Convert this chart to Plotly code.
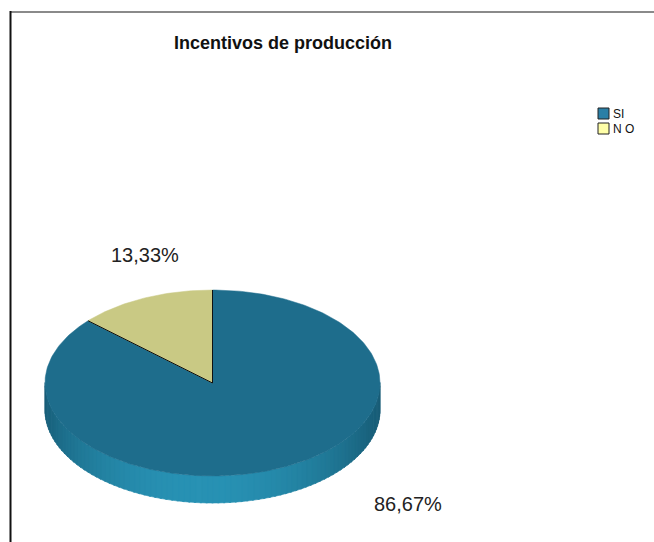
import math
import plotly.graph_objects as go

# Chart data
labels = ["SI", "NO"]
values = [86.67, 13.33]
label_text = ["86,67%", "13,33%"]
legend_text = ["SI", "N O"]
title = "Incentivos de producción"

# Styling
top_colors = ["#1e6d8c", "#c9c984"]
side_dark = [(24, 92, 118), (160, 160, 100)]
side_light = [(40, 146, 180), (215, 215, 150)]
legend_colors = ["#2a7fa6", "#ffffa8"]

W, H = 654, 542
cx, cy = 212.5, 383.0     # centre of the top face (px)
ra, rb = 167.5, 93.0      # ellipse semi-axes (px)
depth = 27.0              # thickness of the disc (px)
# label anchor offsets from the disc centre, one per slice (px)
label_offsets = [(195, 121), (-68, -128)]


def rim(phi, dy=0.0):
    """Point on the ellipse rim; phi measured clockwise from 12 o'clock (degrees)."""
    t = math.radians(phi)
    return cx + ra * math.sin(t), cy - rb * math.cos(t) + dy


total = sum(values)
bounds = []
acc = 0.0
for v in values:
    start = acc / total * 360.0
    acc += v
    bounds.append((start, acc / total * 360.0))


def owner(phi):
    for i, (s, e) in enumerate(bounds):
        if s <= phi % 360.0 < e:
            return i
    return len(values) - 1


fig = go.Figure()

# Side of the disc: only the front half (phi 90..270) is visible
n_seg = 90
step = 180.0 / n_seg
for k in range(n_seg):
    p0 = 90.0 + k * step
    p1 = p0 + step
    pm = (p0 + p1) / 2
    i = owner(pm)
    # lighting: brightest near the front-bottom
    lit = max(0.0, math.cos(math.radians(pm - 185.0))) ** 1.6
    col = tuple(int(side_dark[i][c] + (side_light[i][c] - side_dark[i][c]) * lit) for c in range(3))
    colstr = "rgb(%d,%d,%d)" % col
    q0, q1 = p0 - 0.3, p1 + 0.3
    pts = [rim(q0), rim(q1), rim(q1, depth), rim(q0, depth)]
    fig.add_trace(go.Scatter(
        x=[p[0] for p in pts] + [pts[0][0]],
        y=[p[1] for p in pts] + [pts[0][1]],
        mode="lines", fill="toself", fillcolor=colstr,
        line=dict(color=colstr, width=0.6),
        hoverinfo="skip", showlegend=False))

# Top face slices
for i, (s, e) in enumerate(bounds):
    n = max(4, int((e - s) / 1.0))
    xs, ys = [cx], [cy]
    for j in range(n + 1):
        x, y = rim(s + (e - s) * j / n)
        xs.append(x)
        ys.append(y)
    xs.append(cx)
    ys.append(cy)
    fig.add_trace(go.Scatter(
        x=xs, y=ys, mode="lines", fill="toself", fillcolor=top_colors[i],
        line=dict(color=top_colors[i], width=0.5),
        name=labels[i], hoverinfo="skip", showlegend=False))

# Dark edges of the smaller slice
for i, (s, e) in enumerate(bounds):
    if values[i] == max(values):
        continue
    for phi in (s, e):
        x, y = rim(phi)
        fig.add_trace(go.Scatter(x=[cx, x], y=[cy, y], mode="lines",
                                 line=dict(color="#111111", width=1),
                                 hoverinfo="skip", showlegend=False))

# Percentage labels
annotations = []
for i in range(len(values)):
    annotations.append(dict(x=cx + label_offsets[i][0], y=cy + label_offsets[i][1],
                            xref="x", yref="y", text=label_text[i], showarrow=False,
                            font=dict(family="Liberation Sans, Arial", size=20, color="#222222")))

# Legend drawn as swatches and text
shapes = []
lx, ly0, lstep, sw = 598, 108, 15, 11
for i, lab in enumerate(legend_text):
    y0 = ly0 + i * lstep
    shapes.append(dict(type="rect", xref="x", yref="y", x0=lx, x1=lx + sw, y0=y0, y1=y0 + sw,
                       fillcolor=legend_colors[i], line=dict(color="#222222", width=1)))
    annotations.append(dict(x=lx + sw + 2, y=y0 + sw / 2, xref="x", yref="y",
                            xanchor="left", yanchor="middle", showarrow=False, text=lab,
                            font=dict(family="Liberation Sans, Arial", size=12,
                                      color="#111111")))

# Frame lines
shapes.append(dict(type="line", xref="x", yref="y", x0=10, x1=W, y0=12, y1=12,
                   line=dict(color="#8a8a8a", width=2)))
shapes.append(dict(type="line", xref="x", yref="y", x0=10.5, x1=10.5, y0=11, y1=H,
                   line=dict(color="#111111", width=2)))

fig.update_layout(
    width=W, height=H,
    margin=dict(l=0, r=0, t=0, b=0),
    paper_bgcolor="white", plot_bgcolor="white",
    xaxis=dict(range=[0, W], visible=False, fixedrange=True),
    yaxis=dict(range=[H, 0], visible=False, fixedrange=True),
    title=dict(text="<b>" + title + "</b>", x=283 / W, xanchor="center", y=1 - 43 / H,
               yanchor="middle",
               font=dict(family="Liberation Sans, Arial", size=18, color="#111111")),
    annotations=annotations,
    shapes=shapes,
    showlegend=False,
)

fig.write_html("out.html")
